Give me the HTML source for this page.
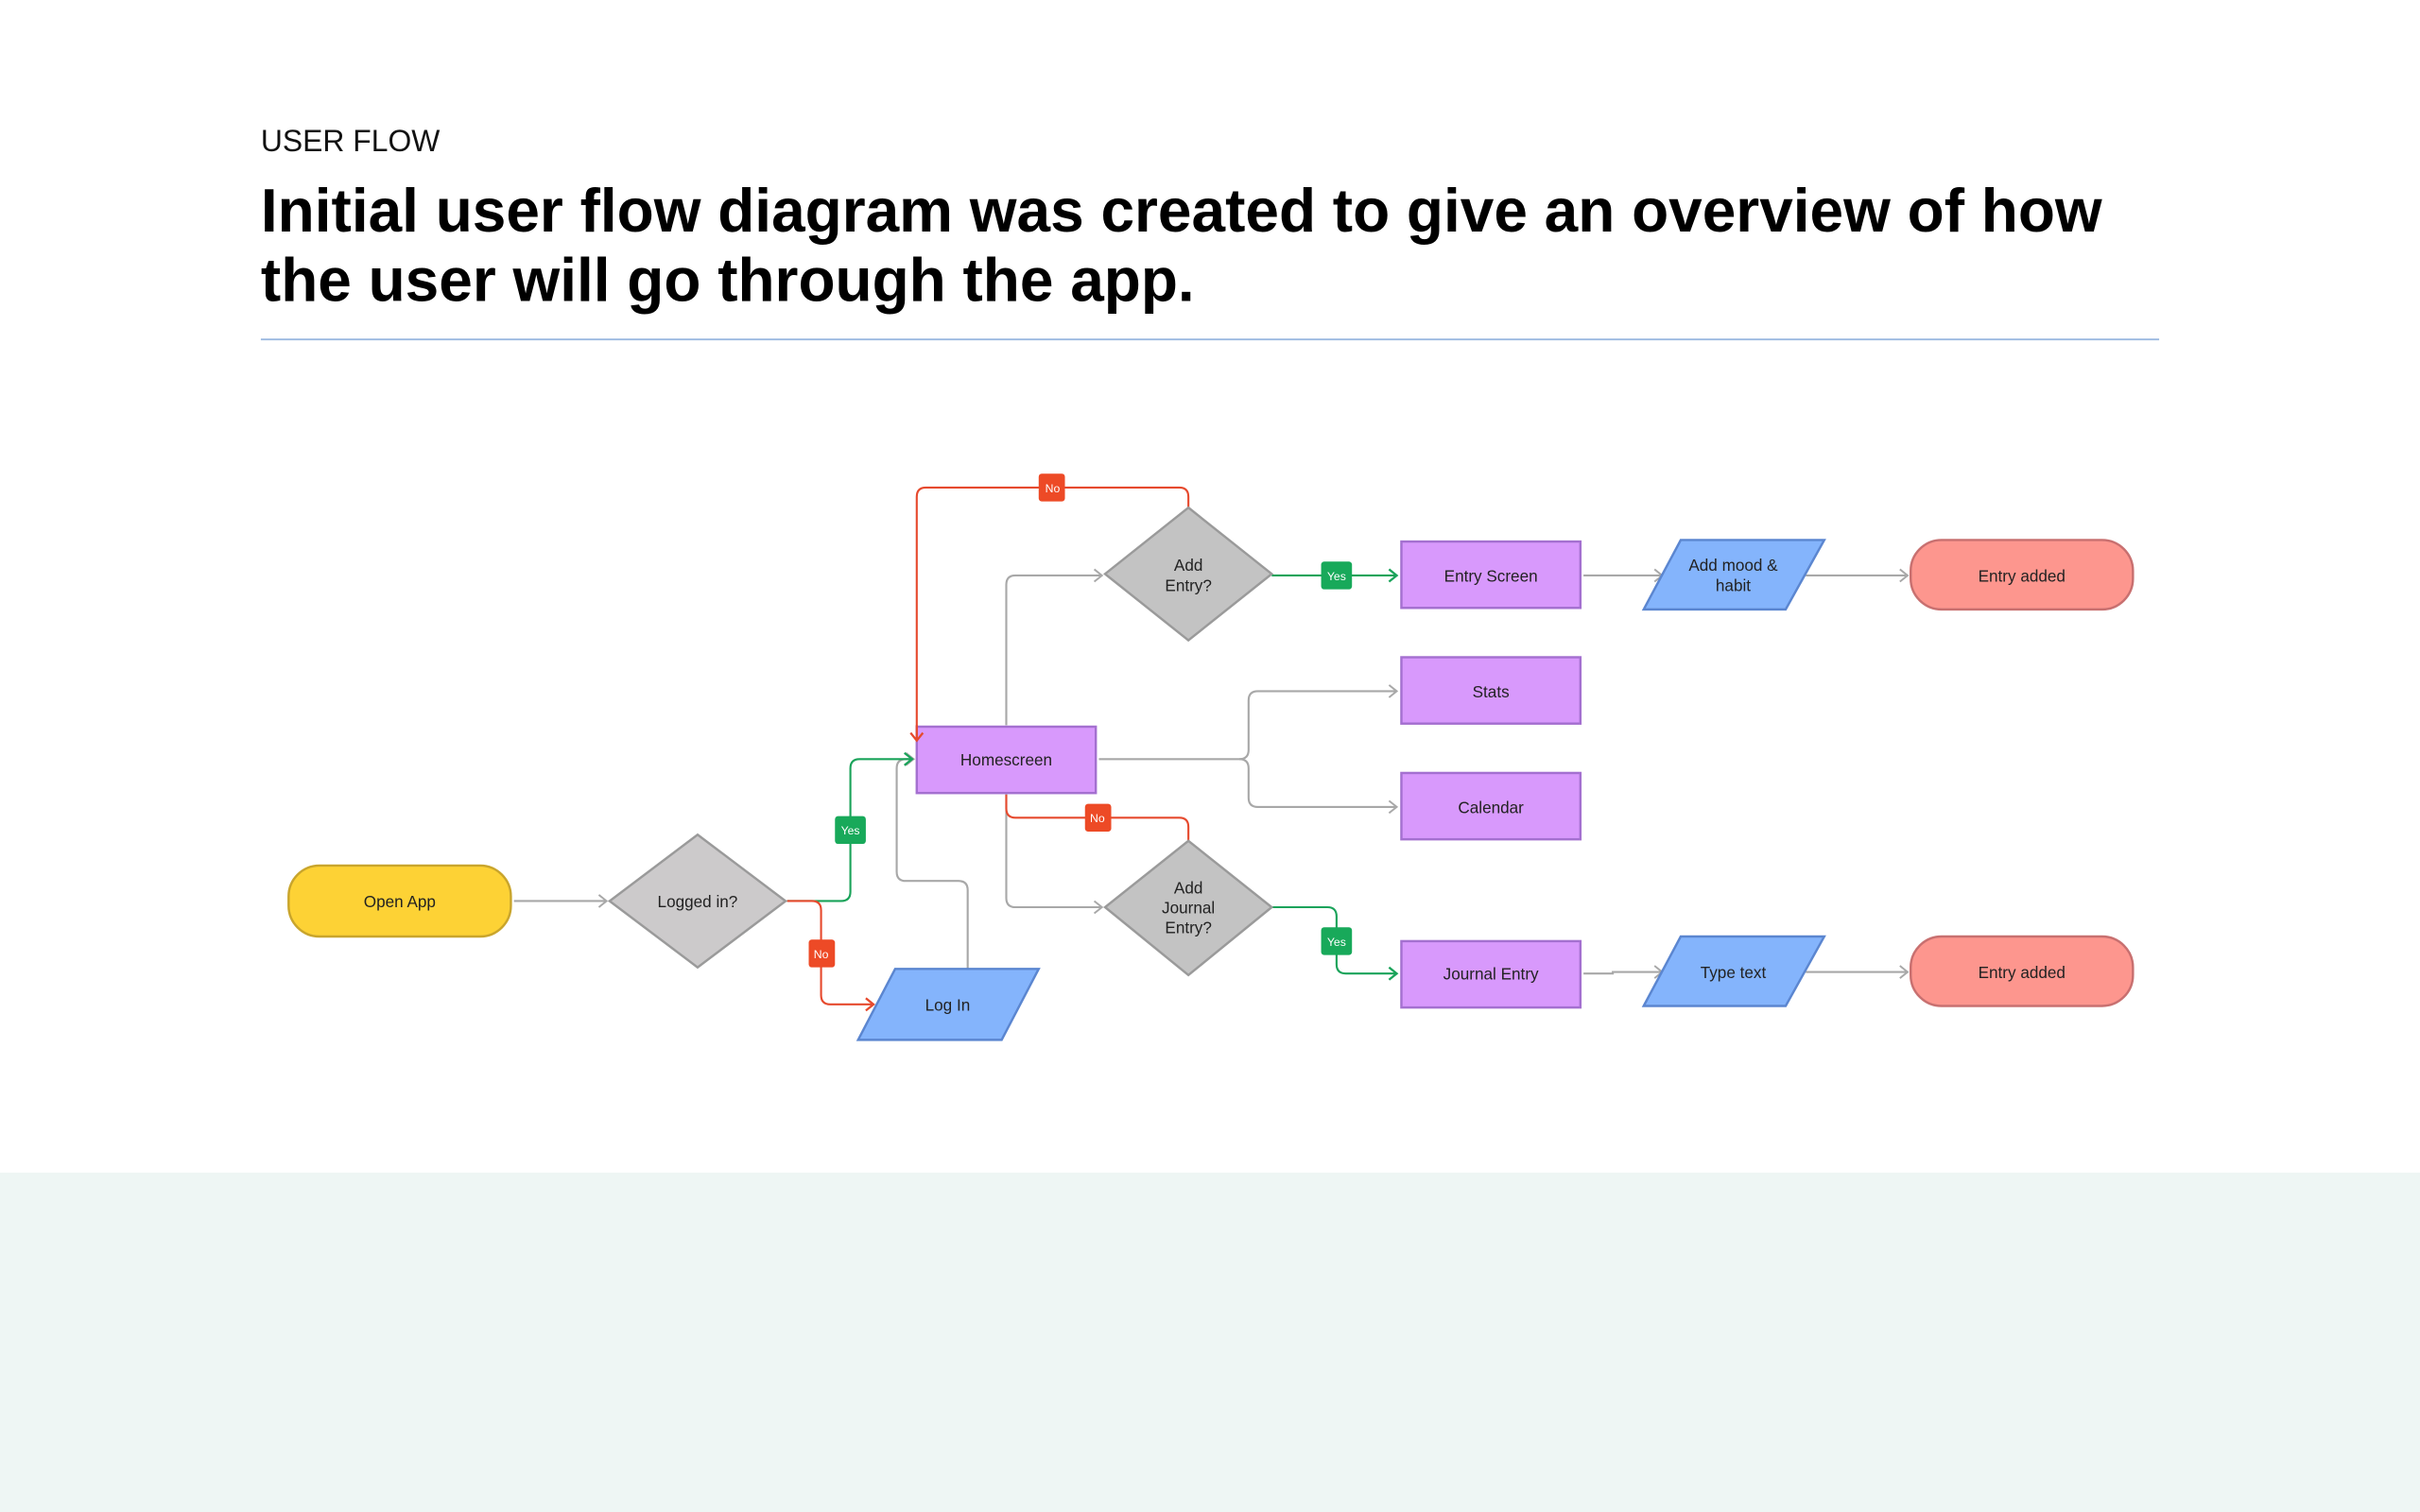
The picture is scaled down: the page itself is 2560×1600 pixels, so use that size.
<!DOCTYPE html>
<html><head><meta charset="utf-8"><style>
html,body{margin:0;padding:0;background:#fff;}
svg{display:block;}
text{font-family:"Liberation Sans",sans-serif;}
</style></head><body>
<svg width="2560" height="1600" viewBox="0 0 1568 980" xmlns="http://www.w3.org/2000/svg">
<defs>
<marker id="ag" markerWidth="10" markerHeight="10" refX="7" refY="5" orient="auto" markerUnits="userSpaceOnUse"><path d="M2,1 L7,5 L2,9" fill="none" stroke="#a8a8a8" stroke-width="1.2"/></marker>
<marker id="agr" markerWidth="10" markerHeight="10" refX="7" refY="5" orient="auto" markerUnits="userSpaceOnUse"><path d="M2,1 L7,5 L2,9" fill="none" stroke="#1aa35a" stroke-width="1.4"/></marker>
<marker id="ar" markerWidth="10" markerHeight="10" refX="7" refY="5" orient="auto" markerUnits="userSpaceOnUse"><path d="M2,1 L7,5 L2,9" fill="none" stroke="#e64a2e" stroke-width="1.4"/></marker>
</defs>
<rect x="0" y="0" width="1568" height="760" fill="#fff"/>
<rect x="0" y="760" width="1568" height="220" fill="#eef6f4"/>
<text x="169" y="98" font-size="20" textLength="116" lengthAdjust="spacingAndGlyphs" fill="#111">USER FLOW</text>
<text x="169" y="150" font-size="40" font-weight="bold" textLength="1193" lengthAdjust="spacingAndGlyphs" fill="#000">Initial user flow diagram was created to give an overview of how</text>
<text x="169" y="195" font-size="40" font-weight="bold" textLength="605" lengthAdjust="spacingAndGlyphs" fill="#000">the user will go through the app.</text>
<line x1="169" y1="220" x2="1399" y2="220" stroke="#9ab8e0" stroke-width="1.2"/>

<g fill="none" stroke-width="1.3">
<path d="M333,584 H393" stroke="#a8a8a8" marker-end="url(#ag)"/>
<path d="M627,628 V577 Q627,571 621,571 H587 Q581,571 581,565 V498 Q581,492 587,492 H592" stroke="#a8a8a8" marker-end="url(#ag)"/>
<path d="M652,470 V379 Q652,373 658,373 H714" stroke="#a8a8a8" marker-end="url(#ag)"/>
<path d="M652,514 V582 Q652,588 658,588 H714" stroke="#a8a8a8" marker-end="url(#ag)"/>
<path d="M712,492 H803 Q809,492 809,486 V454 Q809,448 815,448 H905" stroke="#a8a8a8" marker-end="url(#ag)"/>
<path d="M803,492 Q809,492 809,498 V517 Q809,523 815,523 H905" stroke="#a8a8a8" marker-end="url(#ag)"/>
<path d="M1026,373 H1077" stroke="#a8a8a8" marker-end="url(#ag)"/>
<path d="M1170,373 H1236" stroke="#a8a8a8" marker-end="url(#ag)"/>
<path d="M1026,631 H1045 V630 H1077" stroke="#a8a8a8" marker-end="url(#ag)"/>
<path d="M1170,630 H1236" stroke="#a8a8a8" marker-end="url(#ag)"/>
<path d="M510,584 H545 Q551,584 551,578 V498 Q551,492 557,492 H591" stroke="#1aa35a" marker-end="url(#agr)"/>
<path d="M824,373 H905" stroke="#1aa35a" marker-end="url(#agr)"/>
<path d="M824,588 H860 Q866,588 866,594 V625 Q866,631 872,631 H905" stroke="#1aa35a" marker-end="url(#agr)"/>
<path d="M510,584 H526 Q532,584 532,590 V645 Q532,651 538,651 H566" stroke="#e64a2e" marker-end="url(#ar)"/>
<path d="M770,329 V322 Q770,316 764,316 H600 Q594,316 594,322 V480" stroke="#e64a2e"/>
<path d="M770,545 V536 Q770,530 764,530 H658 Q652,530 652,524 V515" stroke="#e64a2e"/>
</g>

<g font-size="7.5" text-anchor="middle" fill="#fff">
<rect x="541" y="529" width="20" height="18" rx="2" fill="#18a95a"/><text x="551" y="541">Yes</text>
<rect x="856" y="364" width="20" height="18" rx="2" fill="#18a95a"/><text x="866" y="376">Yes</text>
<rect x="856" y="601" width="20" height="18" rx="2" fill="#18a95a"/><text x="866" y="613">Yes</text>
<rect x="524" y="609" width="17" height="18" rx="2" fill="#ed4a26"/><text x="532" y="621">No</text>
<rect x="673" y="307" width="17" height="18" rx="2" fill="#ed4a26"/><text x="682" y="319">No</text>
<rect x="703" y="521" width="17" height="18" rx="2" fill="#ed4a26"/><text x="711" y="533">No</text>
</g>

<g stroke-width="1.5">
<rect x="187" y="561" width="144" height="46" rx="20" fill="#fdd235" stroke="#c9a52c"/>
<polygon points="452,541 509,584 452,627 395,584" fill="#cccacb" stroke="#9a9a9a"/>
<polygon points="556,674 580,628 673,628 649,674" fill="#84b4fc" stroke="#5b86d0"/>
<rect x="594" y="471" width="116" height="43" fill="#d899fc" stroke="#a470d0"/>
<polygon points="770,329 824,372 770,415 716,372" fill="#c3c3c3" stroke="#9a9a9a"/>
<polygon points="770,545 824,588 770,632 716,588" fill="#c3c3c3" stroke="#9a9a9a"/>
<rect x="908" y="351" width="116" height="43" fill="#d899fc" stroke="#a470d0"/>
<rect x="908" y="426" width="116" height="43" fill="#d899fc" stroke="#a470d0"/>
<rect x="908" y="501" width="116" height="43" fill="#d899fc" stroke="#a470d0"/>
<rect x="908" y="610" width="116" height="43" fill="#d899fc" stroke="#a470d0"/>
<polygon points="1065,395 1089,350 1182,350 1157,395" fill="#84b4fc" stroke="#5b86d0"/>
<polygon points="1065,652 1089,607 1182,607 1157,652" fill="#84b4fc" stroke="#5b86d0"/>
<rect x="1238" y="350" width="144" height="45" rx="20" fill="#fd968e" stroke="#c87070"/>
<rect x="1238" y="607" width="144" height="45" rx="20" fill="#fd968e" stroke="#c87070"/>
</g>
<path d="M594,470 V480 M590,475 L594,480 L598,475" fill="none" stroke="#e64a2e" stroke-width="1.4"/>

<g font-size="10.5" text-anchor="middle" fill="#222">
<text x="259" y="588">Open App</text>
<text x="452" y="588">Logged in?</text>
<text x="614" y="655">Log In</text>
<text x="652" y="496">Homescreen</text>
<text x="770" y="370">Add</text><text x="770" y="383">Entry?</text>
<text x="770" y="579">Add</text><text x="770" y="592">Journal</text><text x="770" y="605">Entry?</text>
<text x="966" y="377">Entry Screen</text>
<text x="966" y="452">Stats</text>
<text x="966" y="527">Calendar</text>
<text x="966" y="635">Journal Entry</text>
<text x="1123" y="370">Add mood &amp;</text><text x="1123" y="383">habit</text>
<text x="1123" y="634">Type text</text>
<text x="1310" y="377">Entry added</text>
<text x="1310" y="634">Entry added</text>
</g>
</svg>
</body></html>
